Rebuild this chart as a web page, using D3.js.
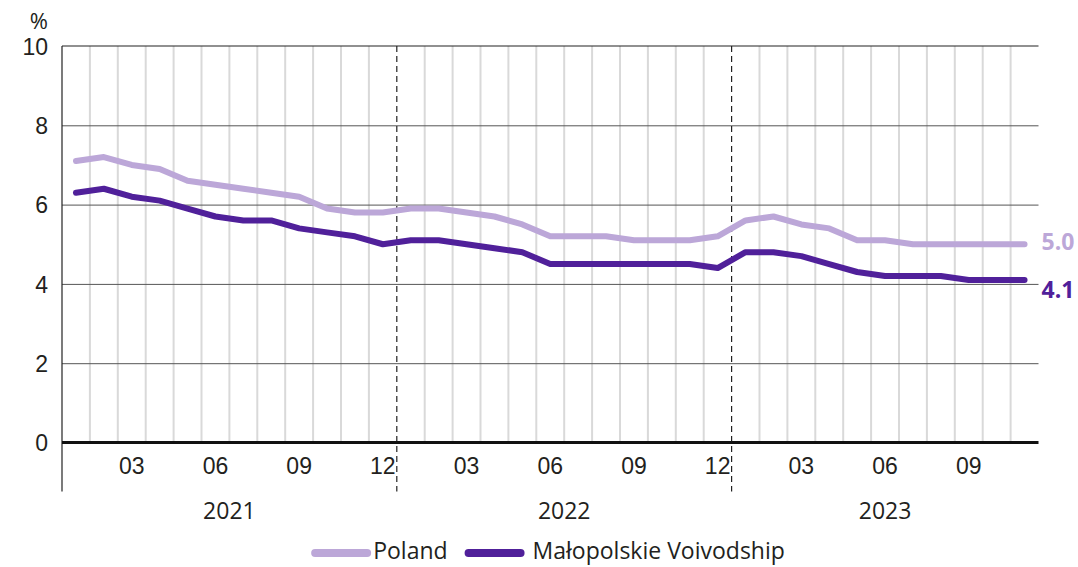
<!DOCTYPE html>
<html>
<head>
<meta charset="utf-8">
<title>Unemployment rate</title>
<script src="https://d3js.org/d3.v7.min.js"></script>
<style>
body { margin: 0; background: #fff; }
svg { display: block; font-family: "Open Sans", "Noto Sans", sans-serif; }
.tick text, .lbl { fill: #231f20; font-size: 23px; }
.grid line { stroke: #555; stroke-width: 1; }
.grid path, .axis path { display: none; }
</style>
</head>
<body>
<script>
// months shown on the x axis (Jan 2021 - Nov 2023)
var months = ["2021-01","2021-02","2021-03","2021-04","2021-05","2021-06","2021-07","2021-08","2021-09","2021-10","2021-11","2021-12",
              "2022-01","2022-02","2022-03","2022-04","2022-05","2022-06","2022-07","2022-08","2022-09","2022-10","2022-11","2022-12",
              "2023-01","2023-02","2023-03","2023-04","2023-05","2023-06","2023-07","2023-08","2023-09","2023-10","2023-11"];
var years = ["2021", "2022", "2023"];
var monthTicks = ["03", "06", "09", "12"];
var yTicks = [0, 2, 4, 6, 8, 10];

var poland = [7.1, 7.2, 7.0, 6.9, 6.6, 6.5, 6.4, 6.3, 6.2, 5.9, 5.8, 5.8,
              5.9, 5.9, 5.8, 5.7, 5.5, 5.2, 5.2, 5.2, 5.1, 5.1, 5.1, 5.2,
              5.6, 5.7, 5.5, 5.4, 5.1, 5.1, 5.0, 5.0, 5.0, 5.0, 5.0];
var malopolskie = [6.3, 6.4, 6.2, 6.1, 5.9, 5.7, 5.6, 5.6, 5.4, 5.3, 5.2, 5.0,
                   5.1, 5.1, 5.0, 4.9, 4.8, 4.5, 4.5, 4.5, 4.5, 4.5, 4.5, 4.4,
                   4.8, 4.8, 4.7, 4.5, 4.3, 4.2, 4.2, 4.2, 4.1, 4.1, 4.1];

var seriesNames = ["Poland", "Małopolskie Voivodship"];
var colors = ["#bca7d8", "#50209a"];

var W = 1078, H = 567;
var margin = {top: 46, left: 62, right: 39.5, bottom: 124.5};
var w = W - margin.left - margin.right,
    h = H - margin.top - margin.bottom;

var svg = d3.select("body").append("svg")
  .attr("width", W).attr("height", H);
var g = svg.append("g")
  .attr("transform", "translate(" + margin.left + "," + margin.top + ")");

var x = d3.scaleBand().domain(months).range([0, w]).padding(0);
var y = d3.scaleLinear().domain([0, 10]).range([h, 0]);
var bw = x.bandwidth();

// vertical month separators
g.append("g").selectAll("line")
  .data(months.filter(function(m, i) { return i > 0 && m.slice(5) != "01"; }))
  .enter().append("line")
  .attr("x1", function(d) { return x(d); }).attr("x2", function(d) { return x(d); })
  .attr("y1", 0).attr("y2", h)
  .attr("stroke", "#d9d9d9").attr("stroke-width", 2);

// horizontal grid
g.append("g").attr("class", "grid")
  .call(d3.axisLeft(y).tickValues([2, 4, 6, 8]).tickSize(-w).tickFormat(""));
g.append("line").attr("x1", 0).attr("x2", w).attr("y1", y(10)).attr("y2", y(10))
  .attr("stroke", "#222").attr("stroke-width", 1.2);

// year separators
g.append("g").selectAll("line")
  .data(months.filter(function(m, i) { return i > 0 && m.slice(5) == "01"; }))
  .enter().append("line")
  .attr("x1", function(d) { return x(d); }).attr("x2", function(d) { return x(d); })
  .attr("y1", 0).attr("y2", h + 49)
  .attr("stroke", "#222").attr("stroke-width", 1.2).attr("stroke-dasharray", "6,4");

// y axis
var yAxis = g.append("g").attr("class", "axis")
  .call(d3.axisLeft(y).tickValues(yTicks).tickSize(0).tickPadding(14));
yAxis.selectAll("text").attr("class", "lbl").attr("dy", "0.36em");
g.append("line").attr("x1", 0).attr("x2", 0).attr("y1", 0).attr("y2", h + 49)
  .attr("stroke", "#222").attr("stroke-width", 1.2);
g.append("text").attr("class", "lbl").style("font-size", "22px")
  .attr("x", -14).attr("y", -17).attr("text-anchor", "end").text("%");

// month labels
var xAxis = g.append("g").attr("class", "axis")
  .attr("transform", "translate(0," + h + ")")
  .call(d3.axisBottom(x)
    .tickValues(months.filter(function(m) { return monthTicks.indexOf(m.slice(5)) >= 0; }))
    .tickSize(0).tickPadding(15)
    .tickFormat(function(d) { return d.slice(5); }));
xAxis.selectAll("text").attr("class", "lbl").attr("dy", "0.72em");

// year labels
g.append("g").selectAll("text")
  .data(years).enter().append("text").attr("class", "lbl")
  .attr("text-anchor", "middle")
  .attr("x", function(yr) {
    var ms = months.filter(function(m) { return m.slice(0, 4) == yr; });
    return (x(ms[0]) + x(ms[ms.length - 1]) + bw) / 2;
  })
  .attr("y", h + 76)
  .text(function(d) { return d; });

// zero line
g.append("line").attr("x1", 0).attr("x2", w).attr("y1", y(0)).attr("y2", y(0))
  .attr("stroke", "#111").attr("stroke-width", 3);

// series lines
var line = d3.line()
  .x(function(d, i) { return x(months[i]) + bw / 2; })
  .y(function(d) { return y(d); });

[poland, malopolskie].forEach(function(s, k) {
  g.append("path").datum(s)
    .attr("d", line)
    .attr("fill", "none")
    .attr("stroke", colors[k])
    .attr("stroke-width", 6)
    .attr("stroke-linejoin", "round")
    .attr("stroke-linecap", "round");
});

// end value labels
var lastX = x(months[months.length - 1]) + bw / 2 + 17;
g.append("text").attr("x", lastX).attr("y", y(poland[poland.length - 1]) - 3)
  .attr("dy", "0.36em").attr("fill", colors[0]).attr("font-size", "23px").attr("font-weight", "bold")
  .text(d3.format(".1f")(poland[poland.length - 1]));
g.append("text").attr("x", lastX).attr("y", y(malopolskie[malopolskie.length - 1]) + 10)
  .attr("dy", "0.36em").attr("fill", colors[1]).attr("font-size", "23px").attr("font-weight", "bold")
  .text(d3.format(".1f")(malopolskie[malopolskie.length - 1]));

// legend
var legend = svg.append("g");
var lx = 0;
seriesNames.forEach(function(name, k) {
  if (k > 0) lx += 17;
  legend.append("line").attr("x1", lx + 4).attr("x2", lx + 56).attr("y1", 0).attr("y2", 0)
    .attr("stroke", colors[k]).attr("stroke-width", 8).attr("stroke-linecap", "round");
  lx += 62 + (k > 0 ? 6 : 0);
  var t = legend.append("text").attr("class", "lbl")
    .attr("x", lx).attr("y", 6).text(name);
  lx += t.node().getComputedTextLength();
});
legend.attr("transform", "translate(" + (548 - lx / 2) + ",553)");
</script>
</body>
</html>
